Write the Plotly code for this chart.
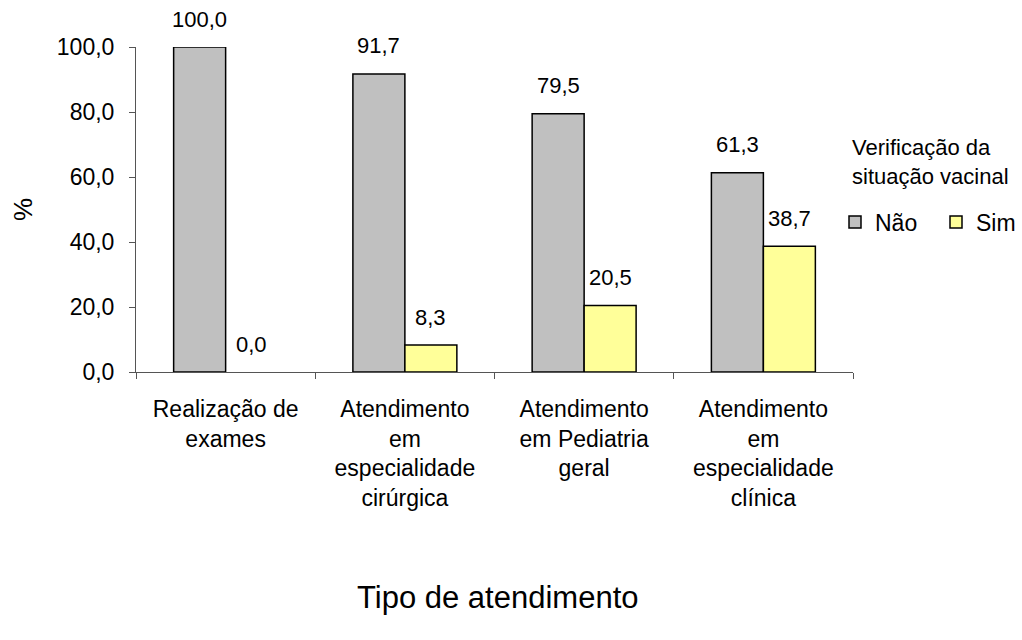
import plotly.graph_objects as go

categories = [
    "Realização de<br>exames",
    "Atendimento<br>em<br>especialidade<br>cirúrgica",
    "Atendimento<br>em Pediatria<br>geral",
    "Atendimento<br>em<br>especialidade<br>clínica",
]
nao_values = [100.0, 91.7, 79.5, 61.3]
sim_values = [0.0, 8.3, 20.5, 38.7]
series_names = ["Não", "Sim"]
y_ticks = [0, 20, 40, 60, 80, 100]

FONT = "Liberation Sans, Arial, sans-serif"
colors = ["#C0C0C0", "#FFFF99"]
legend_ids = ["legend", "legend2"]
groups = ["g_nao", "g_sim"]

L, R, T, B = 136, 169, 47, 268
W, H = 1022, 640
PW, PH = W - L - R, H - T - B


def px_to_paper(px, py):
    return (px - L) / PW, (H - B - py) / PH


fig = go.Figure()
for name, vals, col, lg, grp in zip(series_names, [nao_values, sim_values], colors, legend_ids, groups):
    # data bars (zero-height bars drawn without outline)
    fig.add_trace(go.Bar(
        x=categories, y=vals, name=name, showlegend=False, offsetgroup=grp,
        marker=dict(color=col,
                    line=dict(color="black", width=[1.5 if v > 0 else 0 for v in vals])),
        hoverinfo="skip",
    ))
    # legend entry only (no visible bars)
    fig.add_trace(go.Bar(
        x=[categories[0]], y=[None], name=name, legend=lg, offsetgroup=grp,
        marker=dict(color=col, line=dict(color="black", width=1.5)),
        hoverinfo="skip",
    ))

# data labels
for vals, xs in ((nao_values, -26), (sim_values, 26)):
    for c, v in zip(categories, vals):
        fig.add_annotation(
            x=c, y=v, xref="x", yref="y", text=f"{v:.1f}".replace(".", ","),
            showarrow=False, xshift=xs, yshift=28, yanchor="middle",
            font=dict(family=FONT, size=22, color="black"),
        )

tx, ty = px_to_paper(497, 597)
fig.add_annotation(
    x=tx, y=ty, xref="paper", yref="paper", text="Tipo de atendimento",
    showarrow=False, xanchor="center", yanchor="middle",
    font=dict(family=FONT, size=31, color="black"),
)

# legend title
lx, ly = px_to_paper(850, 162)
fig.add_annotation(
    x=lx, y=ly, xref="paper", yref="paper",
    text="Verificação da<br>situação vacinal", showarrow=False,
    xanchor="left", yanchor="middle", align="left",
    font=dict(family=FONT, size=22, color="black"),
)

leg_common = dict(
    orientation="h", xref="container", yref="container",
    xanchor="left", yanchor="middle", bgcolor="rgba(0,0,0,0)",
    font=dict(family=FONT, size=23),
)

fig.update_layout(
    width=W, height=H,
    margin=dict(l=L, r=R, t=T, b=B, autoexpand=False),
    paper_bgcolor="white", plot_bgcolor="white",
    font=dict(family=FONT, size=22, color="black"),
    separators=",.",
    bargap=0.42, bargroupgap=0,
    barmode="group",
    showlegend=True,
    legend=dict(x=835 / W, y=1 - 222 / H, **leg_common),
    legend2=dict(x=936 / W, y=1 - 222 / H, **leg_common),
    xaxis=dict(
        type="category", showline=True, linecolor="#555555", linewidth=1,
        ticks="outside", tickson="boundaries", ticklen=6, tickcolor="#555555",
        showgrid=False, tickfont=dict(family=FONT, size=23),
        ticklabelstandoff=16,
    ),
    yaxis=dict(
        range=[0, 100], tickvals=y_ticks, tickformat=".1f",
        showline=True, linecolor="#555555", linewidth=1,
        ticks="outside", ticklen=6, tickcolor="#555555",
        showgrid=False, zeroline=False, tickfont=dict(family=FONT, size=23),
        ticklabelstandoff=10,
        title=dict(text="%", standoff=16, font=dict(family=FONT, size=26)),
    ),
)

fig.write_html("out.html")
